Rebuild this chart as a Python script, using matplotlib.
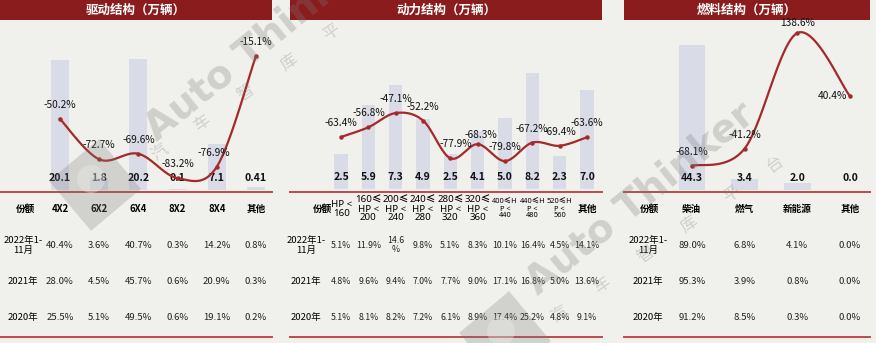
import numpy as np
import matplotlib
matplotlib.use("Agg")
import matplotlib.pyplot as plt
from matplotlib.patches import RegularPolygon, Circle

plt.rcParams['font.family'] = ['Noto Sans CJK SC', 'DejaVu Sans']
LATIN = ['Noto Sans', 'Noto Sans CJK SC', 'DejaVu Sans']

# ---- data ----
row_labels = ['2022年1-\n11月', '2021年', '2020年']

drive_cats = ['4X2', '6X2', '6X4', '8X2', '8X4', '其他']
drive_vol = [20.1, 1.8, 20.2, 0.1, 7.1, 0.41]
drive_yoy = [-50.2, -72.7, -69.6, -83.2, -76.9, -15.1]
drive_share = [
    [40.4, 3.6, 40.7, 0.3, 14.2, 0.8],
    [28.0, 4.5, 45.7, 0.6, 20.9, 0.3],
    [25.5, 5.1, 49.5, 0.6, 19.1, 0.2],
]

power_cats = ['HP <\n160', '160≤\nHP <\n200', '200≤\nHP <\n240', '240≤\nHP <\n280',
              '280≤\nHP <\n320', '320≤\nHP <\n360', '400≤H\nP <\n440', '440≤H\nP <\n480',
              '520≤H\nP <\n560', '其他']
power_vol = [2.5, 5.9, 7.3, 4.9, 2.5, 4.1, 5.0, 8.2, 2.3, 7.0]
power_yoy = [-63.4, -56.8, -47.1, -52.2, -77.9, -68.3, -79.8, -67.2, -69.4, -63.6]
power_share = [
    [5.1, 11.9, 14.6, 9.8, 5.1, 8.3, 10.1, 16.4, 4.5, 14.1],
    [4.8, 9.6, 9.4, 7.0, 7.7, 9.0, 17.1, 16.8, 5.0, 13.6],
    [5.1, 8.1, 8.2, 7.2, 6.1, 8.9, 17.4, 25.2, 4.8, 9.1],
]

fuel_cats = ['柴油', '燃气', '新能源', '其他']
fuel_vol = [44.3, 3.4, 2.0, 0.0]
fuel_yoy = [-68.1, -41.2, 138.6, 40.4]
fuel_share = [
    [89.0, 6.8, 4.1, 0.0],
    [95.3, 3.9, 0.8, 0.0],
    [91.2, 8.5, 0.3, 0.0],
]

BG = '#f0f1ec'
BAR = '#d9dbe7'
LINE = '#a5282b'
HDR = '#8b1c1e'
RULE = '#bd4a4c'

W, H = 876, 343
fig = plt.figure(figsize=(W / 100, H / 100), dpi=100, facecolor=BG)


def px_axes(x0, y0, x1, y1, **kw):
    return fig.add_axes([x0 / W, 1 - y1 / H, (x1 - x0) / W, (y1 - y0) / H], **kw)


def catmull(x, y, n=24):
    p = np.column_stack([x, y]).astype(float)
    p = np.vstack([p[0], p, p[-1]])
    t = np.linspace(0, 1, n)[:, None]
    out = []
    for i in range(len(p) - 3):
        p0, p1, p2, p3 = p[i], p[i + 1], p[i + 2], p[i + 3]
        seg = 0.5 * (2 * p1 + (-p0 + p2) * t + (2 * p0 - 5 * p1 + 4 * p2 - p3) * t ** 2
                     + (-p0 + 3 * p1 - 3 * p2 + p3) * t ** 3)
        out.append(seg if i == 0 else seg[1:])
    out = np.vstack(out)
    return out[:, 0], out[:, 1]


def panel(title, x0, x1, base, xlim, bar_ylim, line_ylim, bw, cats, vol, vfmt, yoy, share,
          hdr_x, row_x, cat_size=6.9, cell_size=6.9, small_cats=(), wrap=(), lab_off=None):
    lab_off = lab_off or {}
    # header bar
    h = px_axes(x0, 0, x1, 20)
    h.set_facecolor(HDR)
    h.set_xticks([]); h.set_yticks([])
    for s in h.spines.values():
        s.set_visible(False)
    h.text(0.5, 0.47, title, transform=h.transAxes, ha='center', va='center',
           color='white', fontsize=9, fontweight='bold')

    # bars + yoy line
    ax = px_axes(x0, 0, x1, base)
    ax.set_facecolor('none')
    xs = np.arange(len(vol))
    ax.bar(xs, vol, width=bw, color=BAR, zorder=1)
    ax.set_xlim(*xlim); ax.set_ylim(*bar_ylim)
    ax.axis('off')
    for i, v in enumerate(vol):
        ax.annotate(vfmt.format(v), (i, 0), xytext=(0, 12), textcoords='offset pixels',
                    ha='center', va='center', fontsize=7.6, fontweight='bold', color='#111111')
    tw = ax.twinx()
    tw.set_ylim(*line_ylim)
    tw.axis('off')
    sx, sy = catmull(xs, yoy)
    tw.plot(sx, sy, color=LINE, lw=1.6, zorder=3)
    tw.plot(xs, yoy, 'o', ms=2.2, color=LINE, zorder=4)
    for i, v in enumerate(yoy):
        dx, dy, ha = lab_off.get(i, (0, 14, 'center'))
        tw.annotate(f'{v:.1f}%', (i, v), xytext=(dx, dy), textcoords='offset pixels',
                    ha=ha, va='center', fontsize=7.3, color='#111111')

    # share table
    t = px_axes(x0, 192, x1, 337)
    t.set_facecolor('none')
    t.set_xlim(*xlim); t.set_ylim(3.53, -0.47)
    t.set_xticks([]); t.set_yticks([])
    for k in ('left', 'right'):
        t.spines[k].set_visible(False)
    for k in ('top', 'bottom'):
        t.spines[k].set_color(RULE)
        t.spines[k].set_linewidth(1.4)
    t.text(hdr_x, 0, '份额', ha='center', va='center', fontsize=6.9, fontweight='bold')
    for j, c in enumerate(cats):
        t.text(j, 0, c, ha='center', va='center', fontweight='bold', linespacing=0.95,
               fontsize=5.3 if j in small_cats else cat_size,
               family=LATIN if '≤' in c or '<' in c else None)
    for r, lab in enumerate(row_labels):
        t.text(row_x, r + 1, lab, ha='center', va='center', fontsize=6.8, linespacing=1.1)
        for j, v in enumerate(share[r]):
            s = f'{v:.1f}%'
            if (r, j) in wrap:
                s = f'{v:.1f}\n%'
            t.text(j, r + 1, s, ha='center', va='center', fontsize=cell_size,
                   linespacing=1.0, color='#222222')


panel('驱动结构（万辆）', 0, 272, 190, (-1.53, 5.41), (0, 29.37), (-89.8, 16.1), 0.46,
      drive_cats, drive_vol, '{:g}', drive_yoy, drive_share, -0.87, -0.94,
      lab_off={4: (-3, 14, 'center')})
panel('动力结构（万辆）', 290, 602, 189, (-1.87, 9.55), (0, 13.31), (-98.8, 29.8), 0.49,
      power_cats, power_vol, '{:.1f}', power_yoy, power_share, -0.70, -1.28,
      cat_size=7.0, cell_size=6.3, small_cats=(6, 7, 8), wrap={(0, 2)},
      lab_off={4: (5, 14, 'center'), 5: (3, 9, 'center')})
panel('燃料结构（万辆）', 624, 870, 190, (-1.29, 3.38), (0, 58.1), (-105.6, 189.9), 0.51,
      fuel_cats, fuel_vol, '{:.1f}', fuel_yoy, fuel_share, -0.80, -0.84,
      lab_off={2: (0, 10, 'center'), 3: (-3, 0, 'right')})

# ---- watermark ----
ov = fig.add_axes([0, 0, 1, 1], zorder=10)
ov.set_xlim(0, W); ov.set_ylim(H, 0)
ov.axis('off')
ov.patch.set_alpha(0)
WM = '#7a7a7a'
for (ax_, ay_), (cx, cy), (lx, ly) in [((157, 142), (160, 153), (95, 185)),
                                        ((538, 296), (560, 315), (505, 337))]:
    ov.text(ax_, ay_, 'Auto Thinker', rotation=39, rotation_mode='anchor', ha='left',
            va='baseline', fontsize=28, fontweight='bold', color=WM, alpha=0.28,
            family='DejaVu Sans')
    for k, ch in enumerate('汽车智库平台'):
        if cy - 30 * k > 10:
            ov.text(cx + 43 * k, cy - 30 * k, ch, rotation=35, ha='center', va='center',
                    fontsize=12, color=WM, alpha=0.28)
    ov.add_patch(RegularPolygon((lx, ly), 4, radius=46, orientation=np.radians(5),
                                color=WM, alpha=0.26, lw=0))
    ov.add_patch(Circle((lx - 4, ly - 6), 14, color=BG, alpha=0.35, lw=0))

fig.savefig('out.png', dpi=100, facecolor=BG)
